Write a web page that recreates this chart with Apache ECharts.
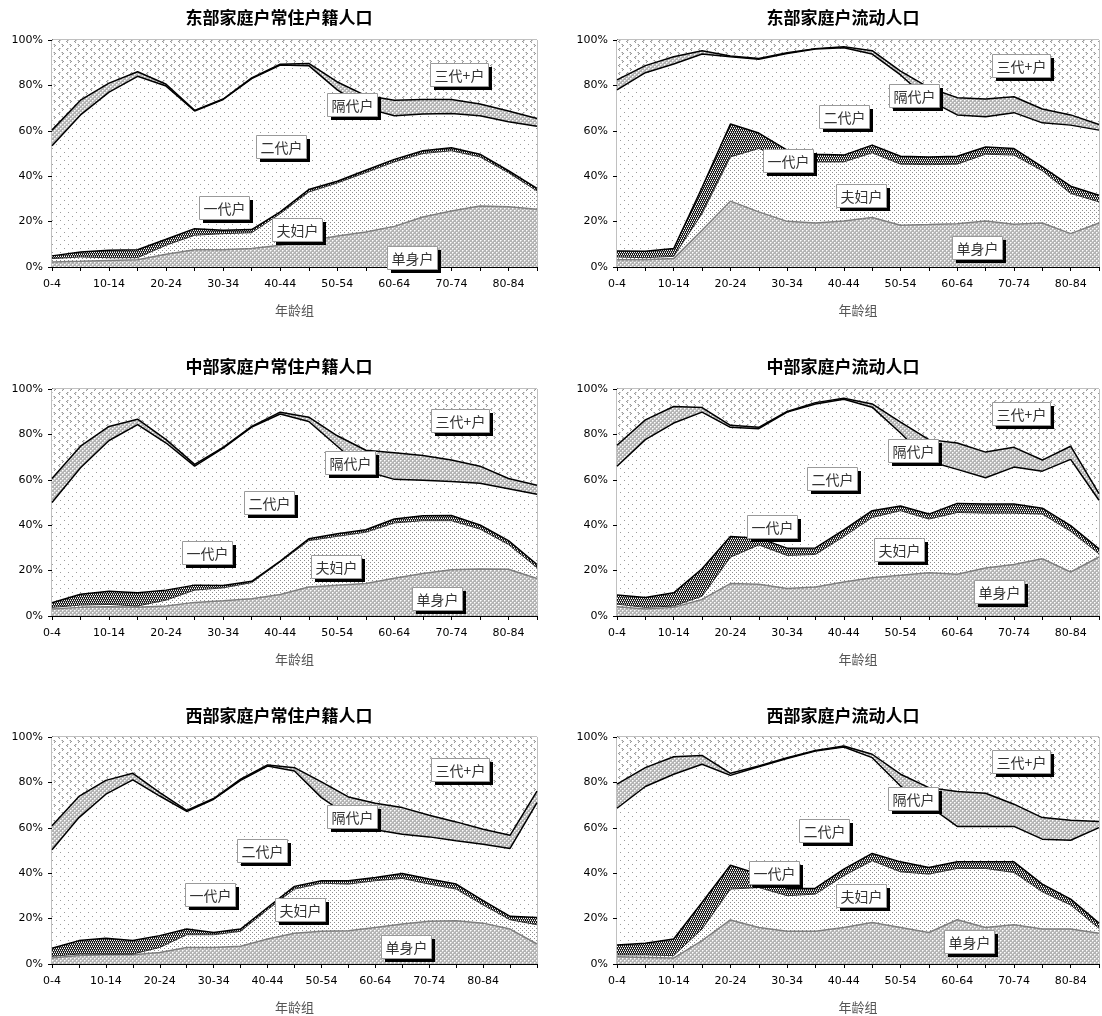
<!DOCTYPE html>
<html><head><meta charset="utf-8">
<script src="https://cdn.jsdelivr.net/npm/echarts@6/dist/echarts.min.js"></script>
<style>html,body{margin:0;padding:0;background:#fff}#c{width:1102px;height:1016px}</style>
</head><body><div id="c"></div>
<script>
// ---------- categories ----------
const AGE_GROUPS = ['0-4','5-9','10-14','15-19','20-24','25-29','30-34','35-39','40-44','45-49','50-54','55-59','60-64','65-69','70-74','75-79','80-84','85+'];
const AGE_GROUPS_WEST_RES = ['0-4','5-9','10-14','15-19','20-24','25-29','30-34','35-39','40-44','45-49','50-54','55-59','60-64','65-69','70-74','75-79','80-84','85-89','90+'];
const HOUSEHOLD_TYPES = ['单身户','夫妇户','一代户','二代户','隔代户','三代+户'];
const PANEL_TITLES = ['东部家庭户常住户籍人口','东部家庭户流动人口','中部家庭户常住户籍人口','中部家庭户流动人口','西部家庭户常住户籍人口','西部家庭户流动人口'];
const X_AXIS_NAME = '年龄组';
const Y_TICKS = [0,20,40,60,80,100];

// ---------- values (% of population) ----------
// 东部 常住户籍
const EAST_RES_SINGLE   = [2.2,2.5,2.9,3.2,5.6,7.6,7.6,8.1,9.6,11.5,13.7,15.4,17.9,22.0,24.7,26.9,26.5,25.4];
const EAST_RES_COUPLE   = [1.5,1.9,1.2,0.9,4.0,6.4,7.1,7.0,13.9,21.5,23.3,26.2,28.4,28.0,26.5,21.6,15.0,8.1];
const EAST_RES_ONEGEN   = [1.2,2.2,3.3,3.5,2.6,2.9,1.5,1.4,0.8,1.1,0.8,1.0,1.1,1.2,1.3,1.2,0.9,1.1];
const EAST_RES_TWOGEN   = [48.5,60.4,69.6,76.4,67.5,51.8,57.6,66.5,64.7,54.6,40.2,27.4,19.2,16.2,15.1,16.9,21.6,27.4];
const EAST_RES_SKIPGEN  = [6.9,6.5,4.0,2.0,0.8,0.3,0.2,0.3,0.3,1.0,3.5,5.5,6.9,6.4,6.2,5.2,4.7,3.4];
const EAST_RES_THREEGEN = [39.7,26.5,19.0,14.0,19.5,31.0,26.0,16.7,10.7,10.3,18.5,24.5,26.5,26.2,26.2,28.2,31.3,34.6];
// 东部 流动
const EAST_MIG_SINGLE   = [3.2,3.2,3.7,16.2,29.0,24.3,20.1,19.4,20.3,21.8,18.4,18.7,19.1,20.3,18.8,19.4,14.7,19.4];
const EAST_MIG_COUPLE   = [1.2,0.9,1.0,7.3,19.5,27.9,27.4,26.9,26.0,28.5,26.9,26.4,26.2,29.4,30.5,23.0,17.7,9.3];
const EAST_MIG_ONEGEN   = [2.6,2.8,3.4,11.5,14.5,6.8,4.0,3.4,3.0,3.4,3.5,3.4,3.5,3.2,2.9,1.7,3.2,2.9];
const EAST_MIG_TWOGEN   = [71.0,78.7,81.3,58.8,29.6,32.5,42.6,46.3,47.3,40.1,35.8,25.0,18.2,13.3,15.8,19.4,26.9,28.7];
const EAST_MIG_SKIPGEN  = [4.4,3.1,3.2,1.5,0.4,0.4,0.3,0.2,0.4,1.5,1.7,5.5,7.6,7.8,7.0,6.1,4.5,2.5];
const EAST_MIG_THREEGEN = [17.6,11.3,7.4,4.7,7.0,8.1,5.6,3.8,3.0,4.7,13.7,21.0,25.4,26.0,25.0,30.4,33.0,37.2];
// 中部 常住户籍
const CENT_RES_SINGLE   = [3.1,3.8,4.1,3.8,4.4,6.0,6.7,7.6,9.5,12.8,13.6,14.3,16.6,18.7,20.4,20.7,20.6,16.5];
const CENT_RES_COUPLE   = [0.7,1.0,1.0,0.6,2.6,5.4,5.7,7.1,14.3,20.4,21.5,22.6,24.4,23.3,21.6,17.6,10.9,4.8];
const CENT_RES_ONEGEN   = [2.0,4.8,5.8,5.8,4.4,2.2,1.0,0.6,0.4,0.8,1.1,1.1,1.7,2.2,2.3,1.8,1.7,1.4];
const CENT_RES_TWOGEN   = [44.2,55.7,66.4,74.1,64.8,52.4,60.6,67.9,64.8,51.7,38.6,25.8,17.5,15.6,14.9,18.4,22.9,30.9];
const CENT_RES_SKIPGEN  = [10.6,9.5,6.2,2.4,1.5,0.8,0.3,0.3,0.8,1.9,4.6,9.2,11.7,10.9,9.5,7.5,4.5,4.0];
const CENT_RES_THREEGEN = [39.4,25.2,16.5,13.3,22.3,33.2,25.7,16.5,10.2,12.4,20.6,27.0,28.1,29.3,31.3,34.0,39.4,42.4];
// 中部 流动
const CENT_MIG_SINGLE   = [4.1,3.1,3.8,7.3,14.3,14.0,12.1,12.8,15.0,16.9,17.9,19.0,18.4,21.1,22.7,25.2,19.4,26.0];
const CENT_MIG_COUPLE   = [1.1,0.7,0.6,1.4,11.6,17.3,14.6,14.3,20.0,26.5,28.5,23.7,27.2,24.2,22.6,19.7,17.9,1.4];
const CENT_MIG_ONEGEN   = [4.0,4.4,5.8,12.1,9.1,3.0,3.2,2.9,2.9,3.0,2.1,2.2,4.0,4.0,4.0,2.6,2.5,2.2];
const CENT_MIG_TWOGEN   = [56.8,69.5,74.8,69.0,48.1,48.2,59.9,63.4,57.6,45.6,32.1,23.3,15.0,11.6,16.3,16.3,29.2,21.4];
const CENT_MIG_SKIPGEN  = [9.2,8.7,7.3,2.0,0.9,0.6,0.3,0.6,0.4,1.4,4.8,9.5,11.6,11.3,8.7,4.9,5.8,2.9];
const CENT_MIG_THREEGEN = [24.8,13.6,7.7,8.2,16.0,16.9,9.9,6.0,4.1,6.6,14.6,22.3,23.8,27.8,25.7,31.3,25.2,46.1];
// 西部 常住户籍
const WEST_RES_SINGLE   = [2.6,3.7,4.1,4.1,5.1,7.3,7.3,7.8,11.0,13.5,14.4,14.7,16.1,17.6,18.8,19.1,18.0,15.4,8.8];
const WEST_RES_COUPLE   = [0.8,0.7,0.3,0.3,2.2,5.6,5.6,6.6,12.9,19.5,21.2,20.5,20.6,20.1,16.4,13.9,8.0,4.1,8.5];
const WEST_RES_ONEGEN   = [3.5,5.9,6.9,6.0,5.2,2.5,1.0,1.0,1.0,1.2,1.1,1.5,1.4,2.2,2.2,2.2,1.9,1.5,3.2];
const WEST_RES_TWOGEN   = [43.4,54.2,63.5,70.7,61.5,51.8,58.7,65.5,62.3,50.8,36.6,28.5,21.0,17.3,18.6,19.1,24.9,29.9,50.6];
const WEST_RES_SKIPGEN  = [10.6,9.3,6.1,2.9,1.5,0.5,0.3,0.5,0.5,1.5,6.9,8.4,11.7,11.7,9.5,8.3,6.6,5.8,5.1];
const WEST_RES_THREEGEN = [39.1,26.2,19.1,16.0,24.5,32.3,27.1,18.6,12.3,13.5,19.8,26.4,29.2,31.1,34.5,37.4,40.6,43.3,23.8];
// 西部 流动
const WEST_MIG_SINGLE   = [3.2,2.9,2.6,10.3,19.4,16.1,14.4,14.4,16.1,18.3,16.1,13.9,19.5,16.1,17.3,15.4,15.4,13.5];
const WEST_MIG_COUPLE   = [0.8,1.1,1.1,5.1,13.6,17.6,15.7,16.4,22.8,27.2,24.5,25.7,22.6,26.0,23.0,16.4,10.6,2.2];
const WEST_MIG_ONEGEN   = [4.4,5.1,7.3,11.7,10.5,5.9,3.2,2.6,2.9,3.2,4.4,2.9,2.9,2.9,4.7,3.4,2.6,2.3];
const WEST_MIG_TWOGEN   = [60.2,69.1,72.6,60.9,39.6,47.3,57.2,60.4,53.8,42.2,33.4,27.1,15.6,15.6,15.6,19.8,25.9,42.1];
const WEST_MIG_SKIPGEN  = [10.6,8.3,7.7,3.9,0.9,0.3,0.4,0.3,0.4,1.5,5.2,8.1,15.4,14.6,9.8,9.5,8.8,2.7];
const WEST_MIG_THREEGEN = [20.8,13.5,8.7,8.1,16.0,12.8,9.1,5.9,4.0,7.6,16.4,22.3,24.0,24.8,29.6,35.5,36.7,37.2];

// ---------- layout (positions / sizes, kept apart from data) ----------
const COL_LEFT = [52, 617], COL_WIDTH = [485, 482], TITLE_CX = [279, 843];
const ROW_TOP = [40, 389, 737], ROW_TITLE_Y = [18, 367, 716], PLOT_H = 227;
// label box centres as fractions of the plot area [fx, fy] in HOUSEHOLD_TYPES order
const LABEL_POS = [
  [[.742,.956],[.505,.837],[.355,.740],[.472,.471],[.619,.286],[.839,.150]],
  [[.747,.916],[.507,.683],[.354,.533],[.470,.335],[.617,.245],[.839,.114]],
  [[.794,.921],[.586,.780],[.320,.722],[.447,.498],[.614,.322],[.841,.137]],
  [[.793,.894],[.586,.709],[.321,.604],[.447,.396],[.615,.269],[.839,.110]],
  [[.730,.921],[.511,.762],[.326,.696],[.433,.502],[.619,.352],[.841,.145]],
  [[.731,.903],[.507,.700],[.325,.595],[.429,.410],[.615,.269],[.839,.110]]
];

const PANEL_DATA = [
  [AGE_GROUPS, [EAST_RES_SINGLE,EAST_RES_COUPLE,EAST_RES_ONEGEN,EAST_RES_TWOGEN,EAST_RES_SKIPGEN,EAST_RES_THREEGEN]],
  [AGE_GROUPS, [EAST_MIG_SINGLE,EAST_MIG_COUPLE,EAST_MIG_ONEGEN,EAST_MIG_TWOGEN,EAST_MIG_SKIPGEN,EAST_MIG_THREEGEN]],
  [AGE_GROUPS, [CENT_RES_SINGLE,CENT_RES_COUPLE,CENT_RES_ONEGEN,CENT_RES_TWOGEN,CENT_RES_SKIPGEN,CENT_RES_THREEGEN]],
  [AGE_GROUPS, [CENT_MIG_SINGLE,CENT_MIG_COUPLE,CENT_MIG_ONEGEN,CENT_MIG_TWOGEN,CENT_MIG_SKIPGEN,CENT_MIG_THREEGEN]],
  [AGE_GROUPS_WEST_RES, [WEST_RES_SINGLE,WEST_RES_COUPLE,WEST_RES_ONEGEN,WEST_RES_TWOGEN,WEST_RES_SKIPGEN,WEST_RES_THREEGEN]],
  [AGE_GROUPS, [WEST_MIG_SINGLE,WEST_MIG_COUPLE,WEST_MIG_ONEGEN,WEST_MIG_TWOGEN,WEST_MIG_SKIPGEN,WEST_MIG_THREEGEN]]
];

// ---------- fill patterns ----------
function tile(w, h, bg, pixels) {
  const c = document.createElement('canvas'); c.width = w; c.height = h;
  const g = c.getContext('2d');
  g.fillStyle = bg; g.fillRect(0, 0, w, h);
  pixels.forEach(p => { g.fillStyle = p[2]; g.fillRect(p[0], p[1], 1, 1); });
  return { image: c, repeat: 'repeat' };
}
const LW = '#ffffff', LL = '#dcdcdc';
const PAT_CROSS = tile(4, 4, '#b4b4b4', [[0,0,LW],[2,2,LW],[1,0,LL],[0,1,LL],[3,2,LL],[2,3,LL]]);
const PAT_FINEDOT = tile(4, 4, '#ffffff', [[0,0,'#8c8c8c'],[2,2,'#8c8c8c']]);
const PAT_CHECK = tile(4, 4, '#141414', [[0,0,'#fff'],[2,0,'#fff'],[1,2,'#fff'],[3,2,'#fff'],[1,1,'#888'],[3,1,'#888'],[0,3,'#888'],[2,3,'#888']]);
const PAT_SPARSEDOT = tile(8, 8, '#ffffff', [[0,0,'#9a9a9a'],[4,4,'#9a9a9a']]);
const C3 = '#9a9a9a', C4 = '#cfcfcf';
const PAT_CHEVRON = tile(8, 8, '#ffffff', [[3,0,C3],[2,1,C3],[3,2,C3],[4,0,C4],[3,1,C4],[6,4,C3],[7,5,C3],[6,6,C3],[5,4,C4],[6,5,C4]]);
const LAYER_STYLE = [
  { fill: PAT_CROSS,     line: '#7f7f7f', lw: 1.5 },
  { fill: PAT_FINEDOT,   line: '#333333', lw: 1 },
  { fill: PAT_CHECK,     line: '#000000', lw: 1.5 },
  { fill: PAT_SPARSEDOT, line: '#000000', lw: 1.5 },
  { fill: PAT_CROSS,     line: '#000000', lw: 1.5 },
  { fill: PAT_CHEVRON,   line: 'rgba(0,0,0,0)', lw: 0 }
];

const FONT_NUM = 'DejaVu Sans';
const FONT_CJK = '"Noto Sans CJK SC", "Noto Sans", sans-serif';
const LABEL_FONT = 14;

const grids = [], xAxes = [], yAxes = [], series = [], titles = [], graphics = [];
const mc = document.createElement('canvas').getContext('2d');
mc.font = LABEL_FONT + 'px "Noto Sans CJK SC"';

PANEL_DATA.forEach((pd, i) => {
  const col = i % 2, row = Math.floor(i / 2);
  const left = COL_LEFT[col], top = ROW_TOP[row], w = COL_WIDTH[col], h = PLOT_H;
  const cats = pd[0];
  grids.push({ left, top, width: w, height: h, show: true, borderColor: '#808080', borderWidth: 1, backgroundColor: 'transparent', containLabel: false });
  xAxes.push({
    type: 'category', gridIndex: i, data: cats, boundaryGap: false,
    name: X_AXIS_NAME, nameLocation: 'middle', nameGap: 37,
    nameTextStyle: { fontSize: 13, color: '#555', fontFamily: FONT_CJK },
    axisLine: { show: true, lineStyle: { color: '#000', width: 1 } },
    axisTick: { show: true, interval: 0, length: 4, lineStyle: { color: '#000' } },
    axisLabel: { interval: (idx) => idx % 2 === 0 && idx <= 16, fontSize: 11, fontFamily: FONT_NUM, color: '#000', margin: 12 },
    splitLine: { show: false }
  });
  yAxes.push({
    type: 'value', gridIndex: i, min: Y_TICKS[0], max: Y_TICKS[Y_TICKS.length - 1], interval: Y_TICKS[1] - Y_TICKS[0],
    axisLine: { show: true, lineStyle: { color: '#000', width: 1 } },
    axisTick: { show: true, length: 4, lineStyle: { color: '#000' } },
    axisLabel: { formatter: '{value}%', fontSize: 11, fontFamily: FONT_NUM, color: '#000', margin: 9 },
    splitLine: { show: false }
  });
  titles.push({
    text: PANEL_TITLES[i], left: TITLE_CX[col], top: ROW_TITLE_Y[row], textAlign: 'center', textVerticalAlign: 'middle', padding: 0,
    textStyle: { fontSize: 17, fontWeight: 'bold', fontFamily: FONT_CJK, color: '#000' }
  });
  pd[1].forEach((vals, k) => {
    const st = LAYER_STYLE[k];
    series.push({
      type: 'line', name: HOUSEHOLD_TYPES[k], xAxisIndex: i, yAxisIndex: i, stack: 'p' + i,
      data: vals, symbol: 'none', smooth: false, silent: true, animation: false,
      lineStyle: { color: st.line, width: st.lw },
      areaStyle: { color: st.fill, opacity: 1 },
      z: 2
    });
  });
  LABEL_POS[i].forEach((fp, k) => {
    const text = HOUSEHOLD_TYPES[k];
    const bw = Math.round(mc.measureText(text).width) + 8, bh = 23;
    const cx = left + fp[0] * w, cy = top + fp[1] * h;
    graphics.push({
      type: 'group', x: Math.round(cx - bw / 2), y: Math.round(cy - bh / 2),
      children: [
        { type: 'rect', z: 100, shape: { x: 4, y: 4, width: bw, height: bh }, style: { fill: '#000' } },
        { type: 'rect', z: 101, shape: { x: 0.5, y: 0.5, width: bw, height: bh }, style: { fill: '#fff', stroke: '#9a9a9a', lineWidth: 1 } },
        { type: 'text', z: 102, style: { text, x: bw / 2 + 0.5, y: bh / 2 + 1, align: 'center', verticalAlign: 'middle', fontSize: LABEL_FONT, fontFamily: FONT_CJK, fill: '#333' } }
      ]
    });
  });
});

const chart = echarts.init(document.getElementById('c'), null, { renderer: 'canvas' });
chart.setOption({
  backgroundColor: '#fff', animation: false,
  title: titles, grid: grids, xAxis: xAxes, yAxis: yAxes, series, graphic: graphics
});
</script></body></html>
